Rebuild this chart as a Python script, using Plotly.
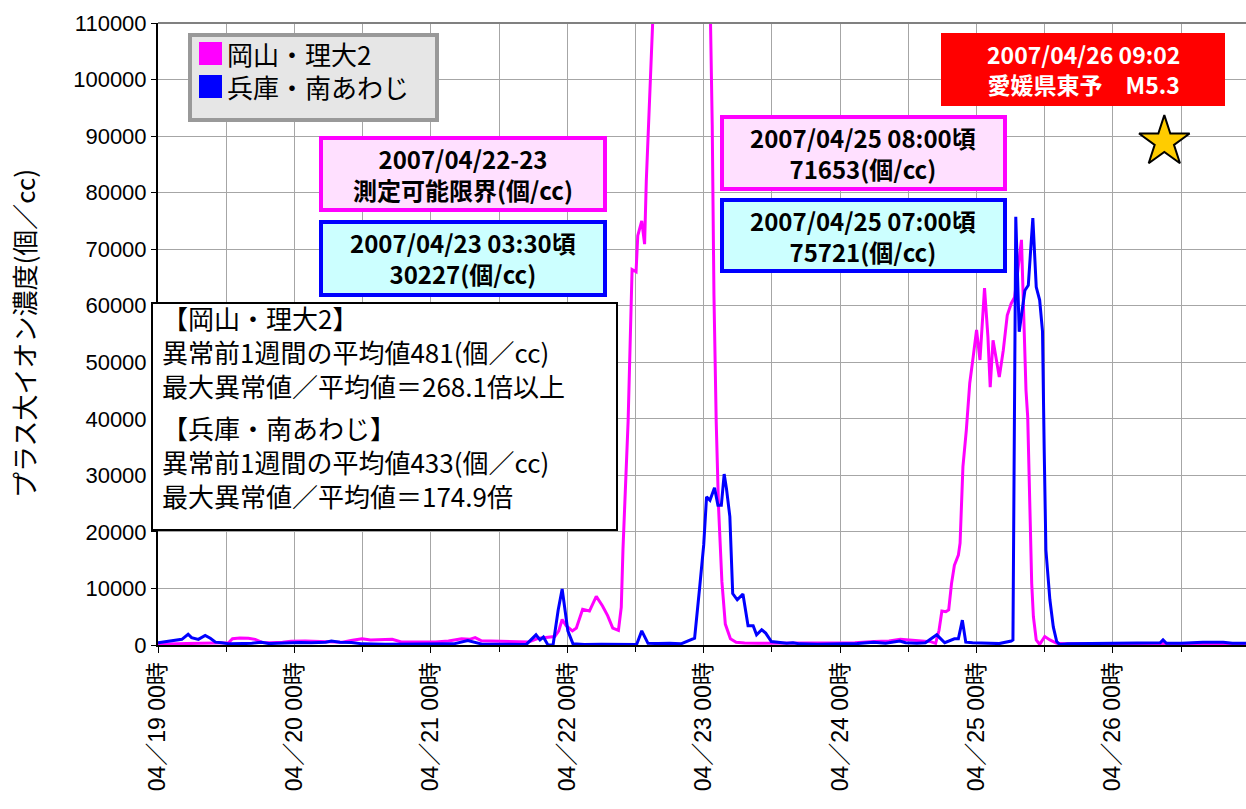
import plotly.graph_objects as go

# ---------------- data (hours since 2007/04/19 00:00) ----------------
okayama_hours = [0, 2, 5, 7.5, 10, 12.4, 13.1, 14.4, 15.9, 17.1, 18.3, 19.9, 21.9, 23.4, 25.9, 27.9,
                 30.4, 32.4, 34.2, 35.9, 37.4, 38.8, 41.2, 42.8, 44.8, 46.8, 48.8, 51.1, 53.4, 54.8,
                 55.8, 56.9, 59.3, 60.8, 62.8, 65.2, 67, 68.7, 69.8, 70.5, 71.1, 71.8, 72.9, 73.6,
                 74.7, 75.9, 77.1, 78.2, 79.1, 80, 81, 81.5, 81.8, 82.7, 83.4, 84.1, 84.4, 85.1,
                 85.6, 85.9, 86.5, 87.1, 87.5, 96.9, 97.2, 97.5, 97.8, 98.2, 98.6, 99.2, 99.8,
                 100.7, 101.7, 103.2, 105.6, 108.6, 111.6, 114.6, 117.6, 119.6, 122.6, 126, 128.6,
                 130.6, 131.8, 134.2, 135.9, 136.8, 137.4, 137.9, 138.6, 139.1, 139.6, 140.1, 140.8,
                 141.1, 141.6, 142.2, 142.8, 143.4, 144, 144.6, 145.4, 146, 146.4, 146.9, 148,
                 148.7, 149.4, 150.1, 150.7, 151.9, 152.7, 153, 153.4, 153.7, 154, 154.5, 155.1,
                 156, 156.9, 158.1, 159.5, 164.5, 169.5, 176.2, 177.5, 181.5, 185.5, 189.5, 191.4]
okayama_values = [150, 150, 250, 300, 350, 400, 1100, 1250, 1200, 1000, 450, 400, 500, 650, 700, 650,
                  550, 500, 850, 1100, 900, 950, 1000, 550, 550, 600, 550, 700, 1100, 1000,
                  1300, 750, 700, 750, 700, 550, 1200, 1400, 1500, 2500, 4500, 3400, 2500, 3000,
                  6300, 6000, 8600, 6900, 5200, 3000, 2600, 6700, 17000, 39500, 66400, 66000, 72400, 75000,
                  70900, 82000, 99000, 112000, 128956, 128956, 110000, 92000, 62000, 39500, 24600, 11200, 3700,
                  1100, 500, 350, 300, 300, 350, 300, 350, 300, 400, 600, 700,
                  1000, 900, 700, 600, 300, 2600, 6000, 5900, 6200, 10900, 14100, 15900,
                  18000, 31500, 38000, 46300, 50900, 55700, 50400, 63100, 54500, 45600, 53900, 47400,
                  52100, 58300, 60400, 61500, 71653, 45000, 40300, 19800, 10900, 5000, 900, 100,
                  1500, 900, 300, 200, 200, 250, 300, 200, 250, 150, 200, 150]

awaji_hours = [0, 2, 4.2, 5.3, 5.9, 7.1, 8.3, 9.2, 10.1, 11.2, 12.6, 15, 16.5, 18.2, 19.5, 21, 23, 25,
               27, 29.5, 30.5, 32, 34, 36, 40, 44, 48, 52, 54.5, 55.8, 57, 60, 63, 64.8, 66.5, 67.2,
               67.8, 68.6, 69.5, 70.4, 71.1, 72.1, 73, 75, 78, 81, 84.2, 85.1, 86.2, 88, 90, 92,
               94.4, 95.3, 96, 96.5, 97.1, 97.9, 98.5, 99.1, 99.6, 100, 100.6, 101.1, 101.9, 102.9,
               103.8, 104.7, 105.3, 106.2, 106.9, 107.9, 110.6, 111.7, 112.9, 116, 120, 123, 125.9,
               128, 130.5, 131.5, 133.5, 135, 137, 138.4, 140.1, 140.8, 141.5, 142.1, 143.3, 146,
               148, 150.1, 150.4, 150.9, 151.5, 152.5, 153.1, 153.9, 154.5, 155.1, 155.6, 155.9,
               156.2, 156.9, 157.5, 158.1, 158.6, 160, 165, 170, 175, 176.3, 176.8, 177.4, 180,
               183.8, 187.4, 189, 191.4]
awaji_values = [400, 700, 1000, 1900, 1300, 1000, 1700, 1200, 500, 400, 200, 250, 300, 500, 250, 300, 400, 450,
                400, 500, 700, 500, 450, 200, 150, 150, 150, 200, 800, 400, 150, 150, 100, 100, 1800, 900,
                1400, 0, 0, 6200, 9900, 2500, 200, 100, 150, 150, 100, 2500, 300, 250, 300, 200,
                1200, 10300, 17700, 26200, 25600, 27800, 24700, 24700, 30227, 27700, 22700, 9100, 8000, 9000,
                3400, 3400, 1800, 2700, 2100, 600, 300, 400, 200, 150, 200, 250, 500,
                300, 700, 400, 300, 400, 1800, 400, 1100, 1100, 4400, 500, 400, 300,
                250, 700, 900, 75721, 55400, 62700, 63600, 75500, 63300, 61000, 55500, 34500,
                16800, 8000, 3200, 600, 100, 200, 250, 250, 300, 400, 900, 300, 300,
                500, 500, 300, 300]

quake_hour = 7 * 24 + 9 + 2 / 60          # 2007/04/26 09:02
quake_marker_level = 89000

day_tick_hours = [0, 24, 48, 72, 96, 120, 144, 168]
day_tick_labels = ["04／19 00時", "04／20 00時", "04／21 00時", "04／22 00時",
                   "04／23 00時", "04／24 00時", "04／25 00時", "04／26 00時"]
y_ticks = list(range(0, 110001, 10000))

series_names = ["岡山・理大2", "兵庫・南あわじ"]
MAGENTA = "#FF00FF"
BLUE = "#0000FF"
JP = "Noto Sans CJK JP"

# ---------------- figure ----------------
W, H = 1246, 809
L, R, T, B = 158, 0, 23, 164
PW, PH = W - L - R, H - T - B


def PX(x):
    return (x - L) / PW


def PY(y):
    return (T + PH - y) / PH


fig = go.Figure()
fig.add_trace(go.Scatter(x=okayama_hours, y=okayama_values, mode="lines", name=series_names[0],
                         line=dict(color=MAGENTA, width=3), showlegend=False))
fig.add_trace(go.Scatter(x=awaji_hours, y=awaji_values, mode="lines", name=series_names[1],
                         line=dict(color=BLUE, width=3), showlegend=False))
fig.add_trace(go.Scatter(x=[quake_hour], y=[quake_marker_level], mode="markers", showlegend=False,
                         marker=dict(symbol="star", size=38, color="#FFCC00",
                                     line=dict(color="black", width=2))))

shapes = []
annotations = []


def rect(x0, y0, x1, y1, fill, line_color=None, lw=0):
    shapes.append(dict(type="rect", xref="paper", yref="paper",
                       x0=PX(x0), x1=PX(x1), y0=PY(y1), y1=PY(y0),
                       fillcolor=fill, layer="above",
                       line=dict(color=line_color if line_color else fill, width=lw)))


def text(x, y, s, size, color="black", anchor="center", family=JP, weight="normal"):
    annotations.append(dict(xref="paper", yref="paper", x=PX(x), y=PY(y), text=s, showarrow=False,
                            xanchor=anchor, yanchor="middle", align=anchor if anchor != "center" else "center",
                            font=dict(family=family, size=size, color=color, weight=weight)))


# top frame line
shapes.append(dict(type="line", xref="paper", yref="paper", x0=0, x1=1, y0=1, y1=1,
                   line=dict(color="#808080", width=2), layer="above"))

# legend box
rect(190, 35, 437, 120, "#E6E6E6", "#999999", 4)
rect(199, 42, 222, 65, MAGENTA)
rect(199, 75, 222, 98, BLUE)
text(225, 54, series_names[0], 26, anchor="left")
text(225, 87, series_names[1], 26, anchor="left")

# info boxes
PINK_FILL = "#FFE0FF"
CYAN_FILL = "#CCFFFF"
BOX_FONT = 24
rect(321, 138, 605, 210, PINK_FILL, MAGENTA, 4)
text(463, 174, "2007/04/22-23<br>測定可能限界(個/cc)", BOX_FONT, weight="bold")
rect(321, 222, 605, 295, CYAN_FILL, BLUE, 4)
text(463, 258, "2007/04/23 03:30頃<br>30227(個/cc)", BOX_FONT, weight="bold")
rect(722, 117, 1005, 189, PINK_FILL, MAGENTA, 4)
text(863, 153, "2007/04/25 08:00頃<br>71653(個/cc)", BOX_FONT, weight="bold")
rect(722, 200, 1005, 271, CYAN_FILL, BLUE, 4)
text(863, 236, "2007/04/25 07:00頃<br>75721(個/cc)", BOX_FONT, weight="bold")

# earthquake box
rect(941, 33, 1225, 106, "#FF0000")
text(1083, 69, "2007/04/26 09:02<br>愛媛県東予　M5.3", 23, color="white", weight="bold")

# statistics text box
rect(152, 303, 617, 530, "white", "black", 2)
stat_group_okayama = "【岡山・理大2】<br>異常前1週間の平均値481(個／cc)<br>最大異常値／平均値＝268.1倍以上"
stat_group_awaji = "【兵庫・南あわじ】<br>異常前1週間の平均値433(個／cc)<br>最大異常値／平均値＝174.9倍"
text(160, 352, stat_group_okayama, 26, anchor="left")
text(160, 462, stat_group_awaji, 26, anchor="left")

# y-axis title
annotations.append(dict(xref="paper", yref="paper", x=PX(23), y=0.5, text="プラス大イオン濃度(個／cc)",
                        showarrow=False, textangle=-90, xanchor="center", yanchor="middle",
                        font=dict(family=JP, size=26, color="black")))

GRID = "#A6A6A6"
fig.update_layout(
    width=W, height=H,
    margin=dict(l=L, r=R, t=T, b=B, pad=0, autoexpand=False),
    paper_bgcolor="white", plot_bgcolor="white",
    shapes=shapes, annotations=annotations,
    xaxis=dict(range=[0, 191.4], automargin=False, tickmode="array", tickvals=day_tick_hours,
               ticktext=day_tick_labels,
               tickangle=-90, ticks="outside", ticklen=6, tickcolor="black", tickwidth=1,
               showgrid=True, gridcolor=GRID, gridwidth=1, zeroline=False,
               showline=True, linecolor="black", linewidth=2,
               tickfont=dict(family="Liberation Sans, " + JP, size=23, color="black"),
               minor=dict(dtick=12, tick0=0, showgrid=True, gridcolor=GRID, gridwidth=1,
                          ticks="outside", ticklen=5, tickcolor="black")),
    yaxis=dict(range=[0, 110000], automargin=False, tickmode="array", tickvals=y_ticks,
               ticktext=[str(v) for v in y_ticks],
               ticks="outside", ticklen=5, tickcolor="black",
               showgrid=True, gridcolor=GRID, gridwidth=1, zeroline=False,
               showline=True, linecolor="black", linewidth=2,
               tickfont=dict(family="Liberation Sans, Arial", size=22, color="black")),
)

fig.write_html("out.html", config={"displayModeBar": False},
               post_script="document.body.style.margin='0';document.body.style.overflow='hidden';")
